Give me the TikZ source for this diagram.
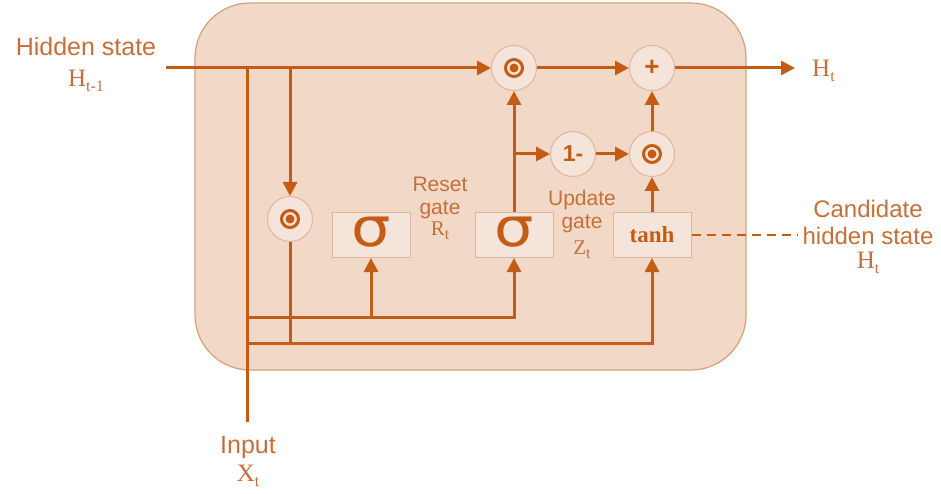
\documentclass[tikz,border=0pt]{standalone}
\usepackage{fontspec}
\setmainfont{Liberation Sans}
\newfontfamily\seriffam{Liberation Serif}
\newfontfamily\sigfam{DejaVu Sans}
\usetikzlibrary{arrows.meta}
\definecolor{lineC}{RGB}{197,92,22}
\definecolor{textC}{RGB}{196,112,58}
\definecolor{bgC}{RGB}{242,216,199}
\definecolor{bgEdge}{RGB}{214,160,125}
\definecolor{boxC}{RGB}{244,228,218}
\definecolor{boxEdge}{RGB}{222,182,155}
\newcommand\subt[1]{\raisebox{-0.45ex}{\fontsize{16}{16}\selectfont #1}}
\tikzset{
  arr/.style={line width=3pt, draw=lineC, -{Triangle[length=14pt,width=14pt]}},
  ln/.style={line width=3pt, draw=lineC},
  opc/.style={circle, minimum size=45pt, inner sep=0pt, fill=boxC, draw=boxEdge, line width=1pt},
  odot/.style={opc, path picture={
      \draw[lineC, line width=3pt] (path picture bounding box.center) circle (8.5pt);
      \fill[lineC] (path picture bounding box.center) circle (4.5pt);}},
  gatebox/.style={rectangle, minimum width=78pt, minimum height=45pt, inner sep=0pt, fill=boxC, draw=boxEdge, line width=1pt, text=lineC},
  lbl/.style={text=textC, align=center, inner sep=0pt},
}
\begin{document}
\begin{tikzpicture}[x=1pt,y=-1pt]
\useasboundingbox (0,0) rectangle (941,494);
% cell background
\draw[fill=bgC, draw=bgEdge, line width=1.2pt, rounded corners=55pt] (195,3) rectangle (746,370);

% operator nodes
\node[odot] (m1) at (514,68) {};
\node[opc, text=lineC, font=\bfseries\fontsize{26}{26}\selectfont] (plus) at (652,68) {+};
\node[opc, text=lineC, font=\bfseries\fontsize{23}{23}\selectfont] (one) at (573,154) {1-};
\node[odot] (m2) at (652,154) {};
\node[odot] (m0) at (290,219) {};

% gate boxes
\node[gatebox, font=\sigfam\fontsize{54}{54}\selectfont] (s1) at (371,235) {\raisebox{0.2ex}{\scalebox{1.15}[1]{σ}}};
\node[gatebox, font=\sigfam\fontsize{54}{54}\selectfont] (s2) at (514,235) {\raisebox{0.2ex}{\scalebox{1.15}[1]{σ}}};
\node[gatebox, font=\seriffam\bfseries\fontsize{23}{23}\selectfont] (tanh) at (652,235) {tanh};

% coordinates
\coordinate (hin) at (166,68);
\coordinate (hout) at (795,68);
\coordinate (j1) at (247,68);
\coordinate (j2) at (290,68);
\coordinate (xin) at (247,422);
\coordinate (a1) at (247,317);
\coordinate (b1) at (247,343);
\coordinate (b2) at (290,343);
\coordinate (dend) at (797,235);

% connectors
\draw[arr] (hin) -- (m1);
\draw[arr] (m1) -- (plus);
\draw[arr] (plus) -- (hout);
\draw[ln] (xin) -- (j1);
\draw[arr] (j2) -- (m0);
\draw[ln] (m0) -- (b2);
\draw[arr] (a1) -| (s2);
\draw[arr] (s1 |- a1) -- (s1);
\draw[arr] (b1) -| (tanh);
\draw[arr] (s2) -- (m1);
\draw[arr] (s2 |- one) -- (one);
\draw[arr] (one) -- (m2);
\draw[arr] (m2) -- (plus);
\draw[arr] (tanh) -- (m2);
\draw[ln, line width=2.2pt, dash pattern=on 9pt off 6pt] (tanh) -- (dend);

% labels
\node[lbl, font=\fontsize{25}{25}\selectfont] (hlab) at (86,47) {Hidden state};
\node[lbl, font=\seriffam\fontsize{25}{25}\selectfont] (hlab2) at (86,81) {H\subt{t-1}};
\node[lbl, font=\seriffam\fontsize{25}{25}\selectfont, anchor=west] (htlab) at (812,71) {H\subt{t}};
\node[lbl, font=\fontsize{21}{23}\selectfont] (rlab) at (440,198) {Reset\\gate};
\node[lbl, font=\seriffam\fontsize{21}{21}\selectfont] (rlab2) at (440,231) {R\subt{t}};
\node[lbl, font=\fontsize{21}{23}\selectfont] (ulab) at (582,212) {Update\\gate};
\node[lbl, font=\seriffam\fontsize{21}{21}\selectfont] (ulab2) at (582,250) {Z\subt{t}};
\node[lbl, font=\fontsize{24}{27}\selectfont] (clab) at (868,222) {Candidate\\hidden state};
\node[lbl, font=\seriffam\fontsize{25}{25}\selectfont] (clab2) at (868,263) {H\subt{t}};
\node[lbl, font=\fontsize{25}{25}\selectfont] (ilab) at (248,447) {Input};
\node[lbl, font=\seriffam\fontsize{25}{25}\selectfont] (ilab2) at (248,476) {X\subt{t}};
\end{tikzpicture}
\end{document}
